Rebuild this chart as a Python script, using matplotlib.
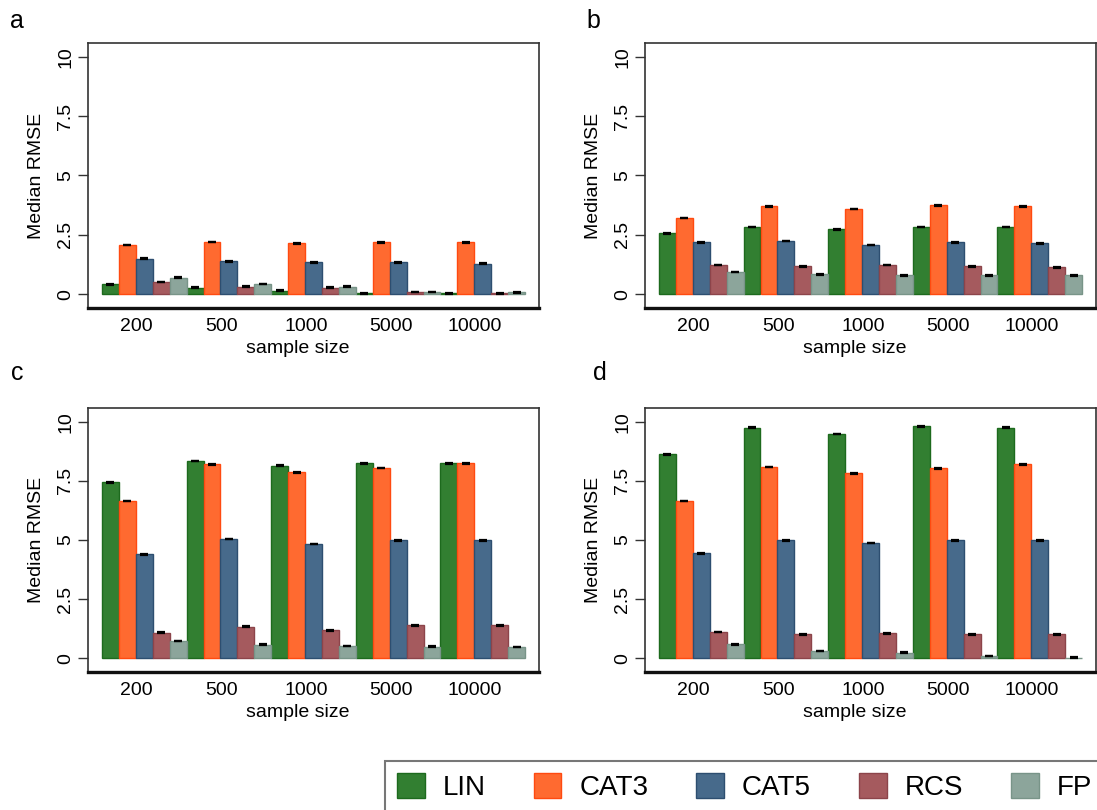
import numpy as np
import matplotlib
matplotlib.use("Agg")
import matplotlib.pyplot as plt
from matplotlib.patches import Patch

plt.rcParams['font.family'] = ['Liberation Sans', 'DejaVu Sans']

# categories
sizes = ['200', '500', '1000', '5000', '10000']
methods = ['LIN', 'CAT3', 'CAT5', 'RCS', 'FP']
colors = ['#327f31', '#ff6a30', '#476a8b', '#a55a5e', '#8ca59b']
edges = ['#1d6a1d', '#ff4a10', '#2d4e70', '#8c444a', '#789488']

# median RMSE, one row per method, one column per sample size
rmse_a = [[0.42, 0.27, 0.15, 0.04, 0.04],
          [2.08, 2.19, 2.14, 2.18, 2.18],
          [1.50, 1.39, 1.34, 1.34, 1.28],
          [0.52, 0.32, 0.28, 0.10, 0.04],
          [0.70, 0.42, 0.32, 0.10, 0.08]]
rmse_b = [[2.56, 2.84, 2.73, 2.84, 2.84],
          [3.21, 3.70, 3.59, 3.74, 3.70],
          [2.18, 2.25, 2.08, 2.18, 2.14],
          [1.22, 1.17, 1.22, 1.17, 1.13],
          [0.94, 0.84, 0.79, 0.79, 0.79]]
rmse_c = [[7.44, 8.35, 8.14, 8.24, 8.24],
          [6.64, 8.20, 7.86, 8.05, 8.24],
          [4.39, 5.04, 4.82, 4.98, 4.98],
          [1.08, 1.34, 1.18, 1.39, 1.39],
          [0.73, 0.58, 0.52, 0.49, 0.48]]
rmse_d = [[8.62, 9.75, 9.48, 9.80, 9.75],
          [6.64, 8.09, 7.82, 8.03, 8.20],
          [4.43, 4.98, 4.87, 4.98, 4.98],
          [1.11, 1.01, 1.05, 1.01, 1.01],
          [0.59, 0.31, 0.24, 0.10, 0.03]]

# half-widths of the (very narrow) intervals
err_a = [[0.03, 0.02, 0.02, 0.01, 0.01],
         [0.01, 0.01, 0.01, 0.01, 0.01],
         [0.01, 0.03, 0.01, 0.01, 0.02],
         [0.01, 0.01, 0.03, 0.01, 0.01],
         [0.01, 0.01, 0.01, 0.01, 0.02]]
err_b = [[0.01, 0.01, 0.01, 0.01, 0.01],
         [0.01, 0.01, 0.01, 0.01, 0.01],
         [0.01, 0.01, 0.01, 0.01, 0.01],
         [0.01, 0.01, 0.01, 0.01, 0.01],
         [0.01, 0.01, 0.01, 0.01, 0.01]]
err_c = [[0.01, 0.01, 0.01, 0.01, 0.01],
         [0.01, 0.01, 0.01, 0.01, 0.01],
         [0.01, 0.01, 0.01, 0.01, 0.01],
         [0.03, 0.01, 0.01, 0.01, 0.01],
         [0.01, 0.01, 0.01, 0.03, 0.01]]
err_d = [[0.01, 0.01, 0.01, 0.01, 0.01],
         [0.01, 0.01, 0.01, 0.01, 0.01],
         [0.03, 0.01, 0.01, 0.01, 0.01],
         [0.01, 0.01, 0.03, 0.01, 0.01],
         [0.03, 0.01, 0.03, 0.01, 0.01]]

panels = [('a', rmse_a, err_a), ('b', rmse_b, err_b),
          ('c', rmse_c, err_c), ('d', rmse_d, err_d)]

W, H = 1097, 810
fig = plt.figure(figsize=(W / 100, H / 100), dpi=100)

# axes boxes in pixels: left, top, right, bottom
boxes = [(88, 43, 539, 308), (645, 43, 1096, 308),
         (88, 408, 539, 672), (645, 408, 1096, 672)]
letter_pos = [(17, 21), (593, 21), (17, 373), (600, 373)]

bw = 0.2
x = np.arange(len(sizes))

for (name, vals, errs), (l, t, r, b), (lx, ly) in zip(panels, boxes, letter_pos):
    ax = fig.add_axes([l / W, 1 - b / H, (r - l) / W, (b - t) / H])
    for j in range(len(methods)):
        xs = x - 0.4 + j * bw
        ax.bar(xs, vals[j], width=bw, color=colors[j], edgecolor=edges[j], linewidth=1)
        ax.errorbar(xs, vals[j], yerr=errs[j], fmt='none', ecolor='black',
                    elinewidth=1.0, capsize=3.2, capthick=1.6)
    ax.set_xlim(-0.665, 4.665)
    ax.set_ylim(-0.58, 10.58)
    ax.set_yticks([0, 2.5, 5, 7.5, 10])
    ax.set_yticklabels(['0', '2.5', '5', '7.5', '10'], rotation=90, va='center')
    ax.set_xticks(x - 0.09)
    ax.set_xticklabels(sizes)
    ax.tick_params(axis='x', length=0, labelsize=14, pad=7)
    ax.tick_params(axis='y', length=7, width=1, labelsize=14, pad=3, color='#333333')
    ax.set_xlabel('sample size', fontsize=14, labelpad=0)
    ax.xaxis.set_label_coords(0.466, -0.12)
    ax.set_ylabel('Median RMSE', fontsize=14)
    ax.yaxis.set_label_coords(-0.095, 0.5)
    for side in ['top', 'left', 'right']:
        ax.spines[side].set_linewidth(1.2)
        ax.spines[side].set_color('#333333')
    ax.spines['bottom'].set_linewidth(2.4)
    ax.spines['bottom'].set_color('#111111')
    fig.text(lx / W, 1 - ly / H, name, fontsize=18, ha='center', va='center')

handles = [Patch(facecolor=c, edgecolor=e, linewidth=1) for c, e in zip(colors, edges)]
leg = fig.legend(handles, methods, loc='upper left', bbox_to_anchor=(385 / W, 1 - 761 / H),
                 ncol=5, fontsize=20, handlelength=1.0, handleheight=1.0,
                 handletextpad=0.65, columnspacing=1.72, borderpad=0.43,
                 borderaxespad=0, fancybox=False, frameon=True)
leg.get_frame().set_edgecolor('#555555')
leg.get_frame().set_linewidth(1.5)

fig.savefig('out.png', dpi=100)
